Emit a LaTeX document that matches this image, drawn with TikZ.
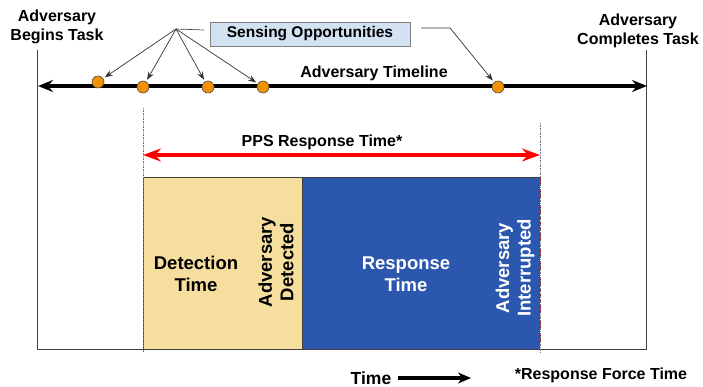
\documentclass[tikz,border=0pt]{standalone}
\usepackage{fontspec}
\setmainfont{Liberation Sans}
\usetikzlibrary{arrows.meta}
\definecolor{detfill}{HTML}{F6DF9E}
\definecolor{resfill}{HTML}{2B58AE}
\definecolor{sensefill}{HTML}{D3E2F3}
\definecolor{dotfill}{HTML}{F39200}
\definecolor{framegray}{HTML}{404040}
\tikzset{
  lbl/.style={font=\bfseries\fontsize{16}{19.5}\selectfont, align=center, inner sep=0pt},
  biglbl/.style={font=\bfseries\fontsize{18.5}{21.5}\selectfont, align=center, inner sep=0pt},
  opp/.style={circle, draw=black!70, line width=0.6pt, fill=dotfill, minimum size=12pt, inner sep=0pt},
  pointer/.style={draw=black!80, line width=0.7pt, -{Stealth[length=8pt,width=6pt]}},
  guide/.style={draw=black!55, line width=0.6pt, densely dotted},
  frameline/.style={draw=framegray, line width=1pt},
}
\begin{document}
\begin{tikzpicture}[x=1pt, y=-1pt]
\useasboundingbox (0,0) rectangle (703,387);

% outer frame: task start, task end, baseline
\coordinate (tl) at (37,50);
\coordinate (bl) at (37,349);
\coordinate (tr) at (646,50);
\coordinate (br) at (646,349);
\draw[frameline] (tl) -- (bl) -- (br) -- (tr);

% timing blocks
\fill[detfill] (143,178) rectangle (302,349);
\fill[resfill] (302,178) rectangle (540,349);
\draw[frameline] (143,349) -- (143,178) -- (540,178);
\draw[frameline] (302,178) -- (302,349);
\draw[red!70!black, line width=0.8pt, densely dotted] (540,178) -- (540,349);

% guides bounding the response time
\coordinate (g1t) at (143,108);
\coordinate (g1b) at (143,352);
\coordinate (g2t) at (540,123);
\coordinate (g2b) at (540,352);
\draw[guide] (g1t) -- (g1b);
\draw[guide] (g2t) -- (g2b);

% adversary timeline
\coordinate (tlL) at (38,86);
\coordinate (tlR) at (647,86);
\draw[line width=3.6pt, {Stealth[length=15pt,width=12pt,inset=5pt]}-{Stealth[length=15pt,width=12pt,inset=5pt]}] (tlL) -- (tlR);
\node[lbl] (tlname) at (374,73) {Adversary Timeline};

% sensing opportunities
\node[opp] (d1) at (98,82) {};
\node[opp] (d2) at (143,87) {};
\node[opp] (d3) at (208,87) {};
\node[opp] (d4) at (263,87) {};
\node[opp] (d5) at (498,87) {};

\node[draw=black!50, line width=0.8pt, fill=sensefill, minimum width=200pt, minimum height=24pt,
      inner sep=0pt, font=\bfseries\fontsize{15.5}{18}\selectfont] (sense) at (310,34) {Sensing Opportunities};

\coordinate (hub) at (176,29);
\coordinate (hubend) at (204,30);
\coordinate (rstart) at (421,28);
\coordinate (rbend) at (450,28);
\draw[draw=black!70, line width=0.7pt] (hub) -- (hubend);
\foreach \d in {d1,d2,d3,d4}
  \draw[pointer, shorten >=2pt] (hub) -- (\d);
\draw[pointer, shorten >=2pt] (rstart) -- (rbend) -- (d5);

% end point labels
\node[lbl] (begin) at (57,27) {Adversary\\Begins Task};
\node[lbl] (finish) at (638,31) {Adversary\\Completes Task};

% PPS response time span
\draw[red, line width=3.4pt, {Stealth[length=18pt,width=13pt,inset=6pt]}-{Stealth[length=18pt,width=13pt,inset=6pt]}] (g1t |- 0,155) -- (g2t |- 0,155);
\node[lbl] (pps) at (322,142) {PPS Response Time*};

% block labels
\node[biglbl] (dettime) at (196,274) {Detection\\Time};
\node[biglbl, rotate=90] (detected) at (276,262) {Adversary\\Detected};
\node[biglbl, text=white] (restime) at (406,274) {Response\\Time};
\node[biglbl, text=white, rotate=90] (interrupted) at (515,268) {Adversary\\Interrupted};

% time axis note
\node[lbl, font=\bfseries\fontsize{17.5}{20}\selectfont] (timeword) at (371,378) {Time};
\coordinate (ta) at (398,378);
\coordinate (tb) at (471,378);
\draw[line width=3.2pt, -{Stealth[length=13pt,width=11pt,inset=4pt]}] (ta) -- (tb);
\node[lbl] (rft) at (601,375) {*Response Force Time};
\end{tikzpicture}
\end{document}
